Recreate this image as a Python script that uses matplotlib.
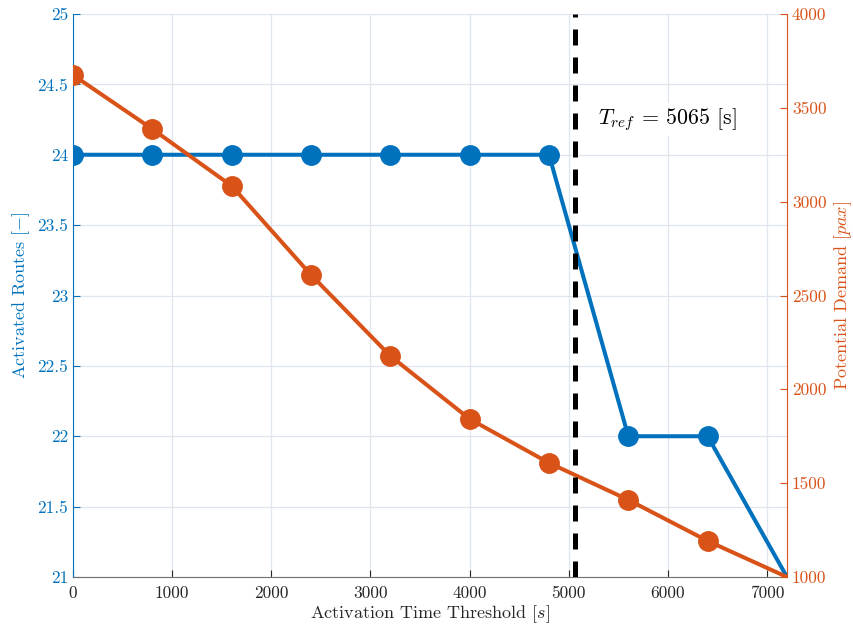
import matplotlib
matplotlib.use("Agg")
import matplotlib.pyplot as plt

plt.rcParams['font.family'] = 'serif'
plt.rcParams['font.serif'] = ['cmr10']
plt.rcParams['mathtext.fontset'] = 'cm'
plt.rcParams['axes.formatter.use_mathtext'] = True

thresholds = [0, 800, 1600, 2400, 3200, 4000, 4800, 5600, 6400, 7200]
routes = [24, 24, 24, 24, 24, 24, 24, 22, 22, 21]
demand = [3675, 3387, 3084, 2610, 2178, 1842, 1608, 1411, 1192, 1000]
t_ref = 5065
x_ticks = [0, 1000, 2000, 3000, 4000, 5000, 6000, 7000]
left_ticks = [21, 21.5, 22, 22.5, 23, 23.5, 24, 24.5, 25]
right_ticks = [1000, 1500, 2000, 2500, 3000, 3500, 4000]

blue = '#0072BD'
orange = '#D95319'
gray = '#262626'

fig = plt.figure(figsize=(8.54, 6.29), dpi=100)
ax = fig.add_axes([0.0855, 0.0827, 0.836, 0.895])
ax2 = ax.twinx()

ax.plot(thresholds, routes, '-o', color=blue, lw=2.9, ms=14,
        markevery=list(range(len(thresholds) - 1)), zorder=3)
ax2.plot(thresholds, demand, '-o', color=orange, lw=2.9, ms=14,
         markevery=list(range(len(thresholds) - 1)), zorder=3)
ax2.axvline(t_ref, color='black', lw=3.6, ls=(0, (3.2, 2.4)), zorder=4)
ax.text(5292, 24.25, r'$T_{ref}$ = 5065 [s]', fontsize=15.8, va='center', ha='left',
        bbox=dict(facecolor='white', edgecolor='none', pad=2), zorder=2)

ax.set_xlim(0, 7200)
ax.set_ylim(21, 25)
ax2.set_ylim(1000, 4000)
ax.set_xticks(x_ticks)
ax.set_xticklabels([str(t) for t in x_ticks])
ax.set_yticks(left_ticks)
ax.set_yticklabels([('%g' % t) for t in left_ticks])
ax2.set_yticks(right_ticks)
ax2.set_yticklabels([str(t) for t in right_ticks])

ax.grid(True, color='#dfe6ee', lw=0.9)
ax.set_axisbelow(True)

ax.tick_params(axis='x', direction='in', length=5, colors=gray, labelsize=12.5, pad=6)
ax.tick_params(axis='y', direction='in', length=5, colors=blue, labelsize=12.5)
ax2.tick_params(axis='y', direction='in', length=5, colors=orange, labelsize=12.5)

for a in (ax, ax2):
    a.spines['top'].set_visible(False)
ax.spines['right'].set_visible(False)
ax2.spines['left'].set_visible(False)
ax2.spines['bottom'].set_visible(False)
ax.spines['left'].set_color(blue)
ax.spines['bottom'].set_color('#707070')
ax2.spines['right'].set_color(orange)

ax.set_xlabel(r'Activation Time Threshold $[s]$', fontsize=13, color=gray, labelpad=2)
ax.set_ylabel(r'Activated Routes $[-]$', fontsize=13, color=blue, labelpad=4)
ax2.set_ylabel(r'Potential Demand $[pax]$', fontsize=13, color=orange, labelpad=4)

fig.savefig('out.png', dpi=100)
